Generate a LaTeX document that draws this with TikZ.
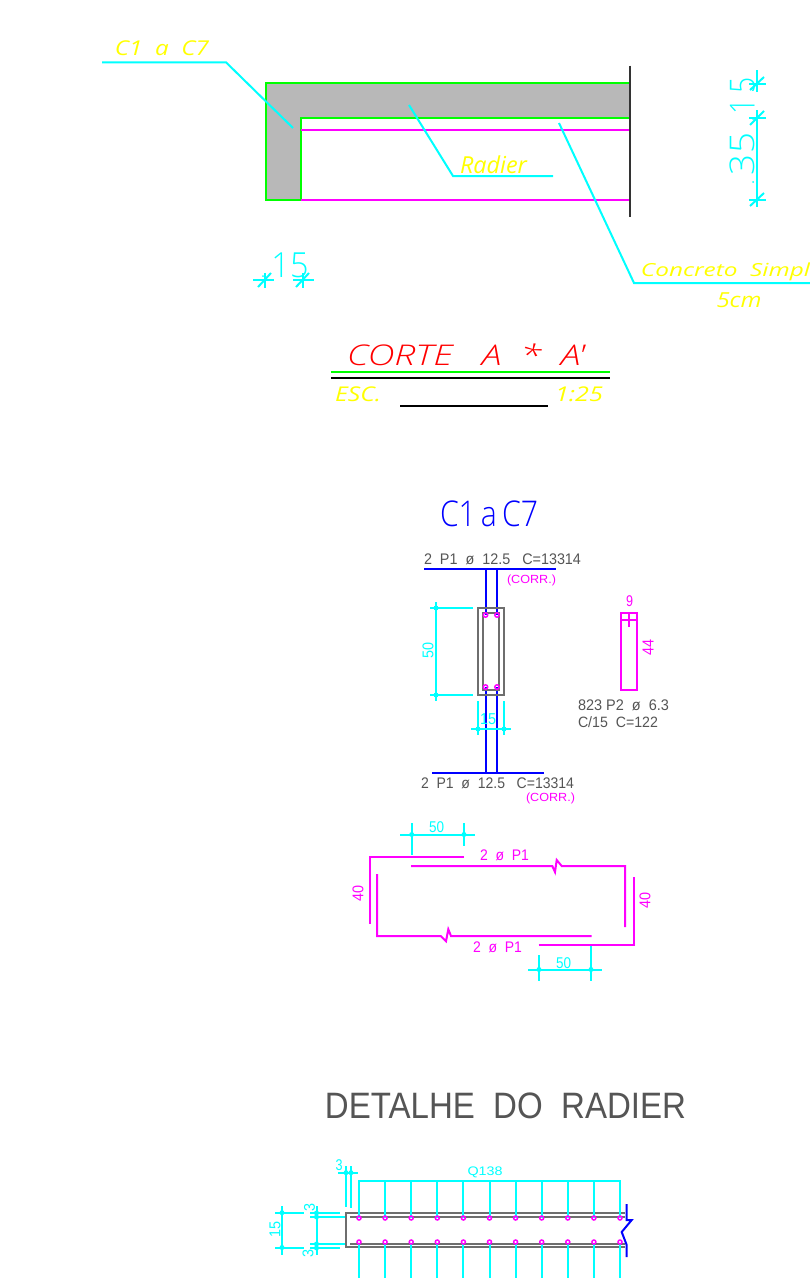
\documentclass[tikz,border=0pt]{standalone}
\usepackage{graphicx}
\usepackage{fontspec}
\setsansfont{Liberation Sans}
\newfontfamily\cadthin{Open Sans Light}
\newfontfamily\cadthinit{Open Sans Light Italic}
\newfontfamily\cadit{Open Sans Italic}
\definecolor{cadcyan}{RGB}{0,255,255}
\definecolor{cadmag}{RGB}{255,0,255}
\definecolor{cadgreen}{RGB}{0,255,0}
\definecolor{cadyel}{RGB}{255,255,0}
\definecolor{cadblue}{RGB}{0,0,255}
\definecolor{cadred}{RGB}{255,0,0}
\definecolor{cadgray}{RGB}{85,85,85}
\definecolor{cadfill}{RGB}{184,184,184}
\newcommand{\fitt}[3]{\resizebox*{#1pt}{#2pt}{\sffamily #3}}
\newcommand{\fitl}[3]{\resizebox*{#1pt}{#2pt}{\cadthin #3}}
\newcommand{\fitsl}[3]{\resizebox*{#1pt}{#2pt}{\cadthinit #3}}
\newcommand{\fity}[3]{\resizebox*{#1pt}{#2pt}{\cadit #3}}
\tikzset{
 x=1pt,y=-1pt,
 lbl/.style={inner sep=0pt,outer sep=0pt,anchor=center},
 cyanln/.style={draw=cadcyan,line width=2pt},
 magln/.style={draw=cadmag,line width=2pt},
 blueln/.style={draw=cadblue,line width=2pt},
 grayln/.style={draw=cadgray!85,line width=2pt},
 dimdot/.style={fill=cadcyan,draw=none},
 bardot/.style={draw=cadmag,line width=1.5pt,fill=none},
}
\begin{document}
\begin{tikzpicture}
\useasboundingbox (0,0) rectangle (810,1278);
\fill[white] (0,0) rectangle (810,1278);
\begin{scope}
\clip (0,0) rectangle (810,1278);
% ---- Corte A*A'
\fill[cadfill] (266,83.3) -- (630,83.3) -- (630,118.3) -- (301,118.3) -- (301,199.5) -- (266,199.5) -- cycle;
\draw[draw=cadgreen,line width=2pt] (630,83.3) -- (266,83.3) -- (266,199.5) -- (301,199.5) -- (301,118.3) -- (630,118.3);
\draw[magln] (301,129.7) -- (630,129.7);
\draw[magln] (301,199.5) -- (630,199.5);
\draw[draw=black!80,line width=2pt] (630,65.7) -- (630,216.7);
\draw[cyanln] (102,62.3) -- (226,62.3) -- (293,128);
\draw[cyanln] (409,105) -- (453,176) -- (553,176);
\draw[cyanln] (559,123) -- (634,283) -- (810,283);
\node[lbl,cadyel] (c1c7) at (162,48) {\fity{94}{15}{C1\ \ a\ \ C7}};
\node[lbl,cadyel] (radier) at (493.5,165) {\fity{67}{18}{Radier}};
\node[lbl,cadyel] (conc) at (725.5,272) {\fity{169}{18}{Concreto\ \ Simpl}};
\node[lbl,cadyel] (cinco) at (739,300.5) {\fity{45}{15}{5cm}};
% dim 15 bottom
\draw[cyanln] (253,280) -- (274,280) (293,280) -- (314,280);
\draw[cyanln] (264.5,273) -- (264.5,288) (303,273) -- (303,288);
\draw[cyanln] (258,287) -- (271,273) (296,287) -- (309,273);
\fill[dimdot] (263,276) circle (1);
\node[lbl,cadcyan] (d15a) at (290,265.5) {\fitl{37}{25}{15}};
% right dims
\draw[cyanln] (757,70) -- (757,92) (757,110) -- (757,207);
\draw[cyanln] (749,83.5) -- (766,83.5) (749,118) -- (766,118) (749,199.5) -- (766,199.5);
\draw[cyanln] (750,90) -- (764,77) (750,125) -- (764,111) (750,206) -- (764,193);
\fill[dimdot] (753,119) circle (1) (753,182) circle (1);
\node[lbl,cadcyan,rotate=90] (d15b) at (742.5,96) {\fitl{37}{25}{1\,5}};
\node[lbl,cadcyan,rotate=90] (d35) at (742.5,154) {\fitl{42}{25}{35}};
% title
\node[lbl,cadred] (corte) at (466,355) {\fitsl{238}{22}{CORTE\ \ \ A\ \ *\ \ A'}};
\draw[draw=cadgreen,line width=2pt] (331,372) -- (610,372);
\draw[draw=black,line width=2pt] (331,378) -- (610,378);
\node[lbl,cadyel] (esc) at (358,394) {\fity{46}{15}{ESC.}};
\node[lbl,cadyel] (esc2) at (579,394) {\fity{48}{15}{1:25}};
\draw[draw=black,line width=2pt] (400,406) -- (548,406);
% ---- C1aC7
\node[lbl,cadblue] (c1a) at (489,514) {\fitl{98}{26}{C1\,a\,C7}};
\node[lbl,cadgray] (top) at (502.5,559) {\fitt{157}{11}{2\ \ P1\ \ ø\ \ 12.5\ \ \ C=13314}};
\draw[blueln] (424,569) -- (556,569);
\draw[blueln] (485.5,569) -- (485.5,615) (497,569) -- (497,615);
\draw[blueln] (485.5,687) -- (485.5,773) (497,687) -- (497,773);
\node[lbl,cadmag] (corr1) at (531.5,580) {\fitt{49}{11}{(CORR.)}};
\draw[grayln] (478,608) rectangle (504,695);
\draw[grayln] (483,613) rectangle (499,690);
\foreach \p in {(485.5,615),(497,615),(485.5,687),(497,687)} \draw[bardot] \p circle (2.2);
% dim 50, 15
\draw[cyanln] (430,608) -- (473,608) (430,695) -- (473,695) (436,602) -- (436,701);
\fill[dimdot] (436,608) circle (2.5) (436,695) circle (2.5);
\node[lbl,cadcyan,rotate=90] (d50) at (428,650) {\fitt{16}{11}{50}};
\draw[cyanln] (478,701) -- (478,735) (504,701) -- (504,735) (471,729) -- (511,729);
\fill[dimdot] (478,729) circle (2.5) (504,729) circle (2.5);
\node[lbl,cadcyan] (d15c) at (488,719) {\fitt{16}{11}{15}};
\draw[blueln] (432,773) -- (544,773);
\node[lbl,cadgray] (bot) at (497.5,783.5) {\fitt{153}{11}{2\ \ P1\ \ ø\ \ 12.5\ \ \ C=13314}};
\node[lbl,cadmag] (corr2) at (550.5,798) {\fitt{49}{11}{(CORR.)}};
% stirrup
\draw[magln] (621,613) rectangle (637,690);
\draw[magln] (621,620) -- (637,620) (629,613) -- (629,627);
\node[lbl,cadmag] (nine) at (629.5,601) {\fitt{7}{11}{9}};
\node[lbl,cadmag,rotate=90] (ff) at (648,647) {\fitt{16}{11}{44}};
\node[lbl,cadgray] (p2a) at (623.5,705) {\fitt{91}{11}{823 P2\ \ ø\ \ 6.3}};
\node[lbl,cadgray] (p2b) at (618,722.5) {\fitt{80}{11}{C/15\ \ C=122}};
% bars
\draw[magln] (464,857) -- (370,857) -- (370,924);
\draw[magln] (411,866) -- (552.3,866) -- (555,872) -- (556.7,860) -- (561.7,866) -- (625,866) -- (625,927);
\draw[magln] (377,874) -- (377,936) -- (440.7,936) -- (446,941.3) -- (448.3,929.3) -- (451,936) -- (591.7,936);
\draw[magln] (538.5,944.5) -- (633.5,944.5) -- (633.5,877);
\draw[cyanln] (400,834.5) -- (475,834.5) (411.7,823) -- (411.7,855) (464,823) -- (464,846);
\fill[dimdot] (411.7,834.5) circle (2.5) (464,834.5) circle (2.5);
\node[lbl,cadcyan] (d50a) at (436.5,827.5) {\fitt{15}{11}{50}};
\draw[cyanln] (528,969.5) -- (602,969.5) (539,955) -- (539,981) (591,946) -- (591,981);
\fill[dimdot] (539,969.5) circle (2.5) (591,969.5) circle (2.5);
\node[lbl,cadcyan] (d50b) at (563.5,963) {\fitt{15}{11}{50}};
\node[lbl,cadmag] (p1a) at (504.5,855) {\fitt{49}{11}{2\ \ ø\ \ P1}};
\node[lbl,cadmag] (p1b) at (497.5,947) {\fitt{49}{11}{2\ \ ø\ \ P1}};
\node[lbl,cadmag,rotate=90] (f40a) at (358,893) {\fitt{16}{11}{40}};
\node[lbl,cadmag,rotate=90] (f40b) at (645,900) {\fitt{16}{11}{40}};
% ---- Detalhe
\node[lbl,cadgray] (det) at (505.5,1105.5) {\fitt{361}{26}{DETALHE\ \ DO\ \ RADIER}};
\draw[grayln] (625,1212.7) -- (345.7,1212.7) -- (345.7,1247.3) -- (625,1247.3);
\draw[grayln] (350,1216.5) -- (625,1216.5) (350,1244) -- (625,1244);
\draw[cyanln] (359,1218) -- (359,1181) -- (620,1181) -- (620,1218);
\foreach \i in {0,...,10} {
 \pgfmathsetmacro{\xx}{359+26.1*\i}
 \ifnum\i>0 \ifnum\i<10 \draw[cyanln] (\xx,1181) -- (\xx,1218); \fi\fi
 \draw[cyanln] (\xx,1243) -- (\xx,1278);
 \draw[bardot] (\xx,1218) circle (2);
 \draw[bardot] (\xx,1242) circle (2);
}
\node[lbl,cadcyan] (q) at (485,1172) {\fitt{35}{11}{Q138}};
\draw[blueln] (626.7,1204) -- (626.7,1220) -- (631.7,1220) -- (621.7,1232) -- (626.7,1245) -- (626.7,1257);
% dims of detail
\draw[cyanln] (338,1172.7) -- (358,1172.7) (346,1166) -- (346,1207) (351,1166) -- (351,1208);
\fill[dimdot] (346,1172.7) circle (2.5) (351,1172.7) circle (2.5);
\node[lbl,cadcyan] (d3a) at (339,1165) {\fitt{7}{11}{3}};
\draw[cyanln] (275,1212.7) -- (304,1212.7) (275,1247.5) -- (304,1247.5) (282,1206) -- (282,1255);
\fill[dimdot] (282,1212.7) circle (2.5) (282,1247.5) circle (2.5);
\node[lbl,cadcyan,rotate=90] (d15d) at (275,1229) {\fitt{16}{11}{15}};
\draw[cyanln] (310,1212.7) -- (340,1212.7) (310,1216.5) -- (345,1216.5) (310,1244) -- (345,1244) (310,1247.5) -- (340,1247.5) (316.5,1206) -- (316.5,1255);
\fill[dimdot] (316.5,1213) circle (2.5) (316.5,1217) circle (2.5) (316.5,1244) circle (2.5) (316.5,1248) circle (2.5);
\node[lbl,cadcyan,rotate=90] (d3b) at (309.5,1207) {\fitt{8}{11}{3}};
\node[lbl,cadcyan,rotate=90] (d3c) at (308,1253) {\fitt{8}{11}{3}};
\end{scope}
\end{tikzpicture}
\end{document}
